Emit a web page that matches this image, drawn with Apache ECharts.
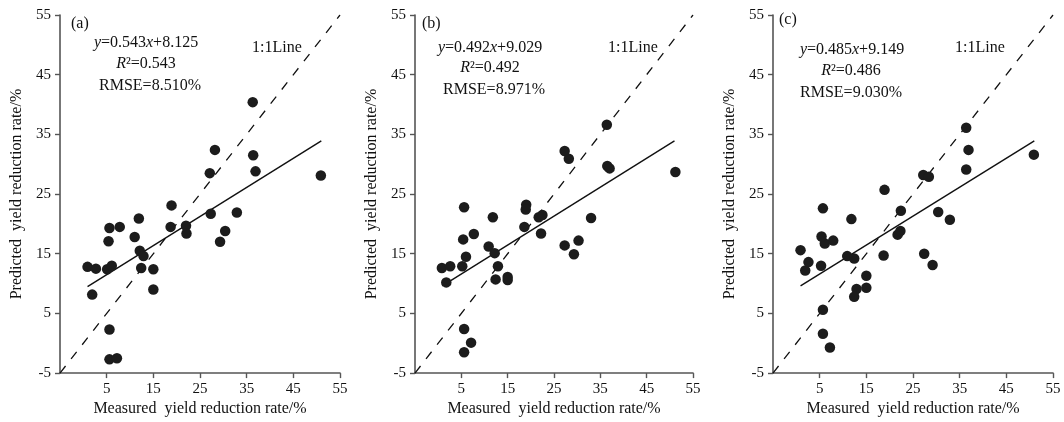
<!DOCTYPE html>
<html>
<head>
<meta charset="utf-8">
<script src="https://cdn.jsdelivr.net/npm/echarts@6/dist/echarts.min.js"></script>
<style>
html,body{margin:0;padding:0;background:#fff;}
#chart{width:1064px;height:422px;}
</style>
</head>
<body>
<div id="chart"></div>
<script>
// ---- data ----
const xTicks = [5, 15, 25, 35, 45, 55];
const yTicks = [-5, 5, 15, 25, 35, 45, 55];

// Panel (a)
const measuredA = [0.9, 2.7, 1.9, 5.1, 6.1, 5.4, 5.6, 7.8, 5.6, 5.6, 7.2, 11.0, 11.9, 12.1, 12.9, 12.4, 15.0, 15.0, 18.9, 18.7, 22.0, 22.1, 27.1, 28.2, 27.3, 29.3, 30.4, 32.9, 36.3, 36.4, 36.9, 50.9];
const predictedA = [12.8, 12.5, 8.15, 12.4, 13.0, 17.1, 19.3, 19.5, 2.3, -2.7, -2.5, 17.8, 20.9, 15.5, 14.6, 12.6, 12.4, 9.0, 23.1, 19.5, 19.7, 18.4, 28.5, 32.4, 21.7, 17.0, 18.8, 21.9, 40.4, 31.5, 28.8, 28.1];

// Panel (b)
const measuredB = [0.8, 2.6, 1.75, 5.2, 6.0, 5.4, 5.6, 7.7, 5.6, 5.6, 7.1, 10.9, 11.8, 12.2, 12.9, 12.4, 15.0, 15.0, 19.0, 18.9, 18.6, 21.7, 22.5, 22.2, 27.3, 28.2, 27.3, 29.3, 30.3, 33.0, 36.4, 36.5, 37.0, 51.2];
const predictedB = [12.6, 12.9, 10.2, 12.9, 14.5, 17.4, 22.8, 18.3, 2.4, -1.5, 0.1, 16.2, 21.1, 15.1, 12.9, 10.7, 11.1, 10.6, 23.2, 22.4, 19.5, 21.1, 21.5, 18.4, 32.2, 30.9, 16.4, 14.9, 17.2, 21.0, 36.6, 29.7, 29.3, 28.7];

// Panel (c)
const measuredC = [0.9, 1.9, 2.6, 5.3, 6.1, 5.4, 5.7, 7.9, 5.7, 5.7, 7.2, 10.9, 11.8, 12.4, 12.9, 12.4, 15.0, 15.0, 18.9, 18.7, 21.7, 22.3, 22.4, 27.2, 28.4, 27.4, 29.2, 30.4, 32.9, 36.4, 36.9, 36.4, 50.9];
const predictedC = [15.6, 12.2, 13.6, 13.0, 16.7, 17.9, 22.6, 17.2, 5.6, 1.6, -0.7, 14.6, 20.8, 14.2, 9.1, 7.8, 11.3, 9.3, 25.7, 14.7, 18.2, 18.8, 22.2, 28.2, 27.9, 15.0, 13.1, 22.0, 20.7, 36.1, 32.4, 29.1, 31.6];

// fitted lines (end points)
const fitX = [0.9, 51.0];
const fitA = [9.5, 33.9];
const fitB = [9.6, 33.9];
const fitC = [9.6, 33.9];

// 1:1 line
const oneToOne = [-5, 55];

const labels = ['(a)', '(b)', '(c)'];
const equations = ['{i|y}=0.543{i|x}+8.125', '{i|y}=0.492{i|x}+9.029', '{i|y}=0.485{i|x}+9.149'];
const r2Texts = ['{i|R}²=0.543', '{i|R}²=0.492', '{i|R}²=0.486'];
const rmseTexts = ['RMSE=8.510%', 'RMSE=8.971%', 'RMSE=9.030%'];
const lineText = '1:1Line';
const xName = 'Measured  yield reduction rate/%';
const yName = 'Predicted  yield reduction rate/%';

// ---- chart ----
const FONT = 'Liberation Serif';
const panels = [
  {mx: measuredA, py: predictedA, fit: fitA},
  {mx: measuredB, py: predictedB, fit: fitB},
  {mx: measuredC, py: predictedC, fit: fitC}
];
const grids = [
  {left: 60, top: 15, width: 280, height: 363},
  {left: 415, top: 15, width: 278, height: 363},
  {left: 773, top: 15, width: 280, height: 363}
];
const zip = (a, b) => a.map((v, i) => [v, b[i]]);

const xAxes = [], yAxes = [], series = [];
panels.forEach((p, i) => {
  xAxes.push({
    gridIndex: i, type: 'value', min: -5, max: 55, interval: 10,
    name: xName, nameLocation: 'middle', nameGap: 26,
    nameTextStyle: {fontFamily: FONT, fontSize: 16, color: '#111'},
    axisLine: {show: true, onZero: false, lineStyle: {color: '#555', width: 1.6}},
    axisTick: {show: true, inside: false, length: 5, customValues: xTicks, lineStyle: {color: '#555', width: 1.4}},
    axisLabel: {fontFamily: FONT, fontSize: 15, color: '#111', margin: 8, customValues: xTicks},
    splitLine: {show: false}
  });
  yAxes.push({
    gridIndex: i, type: 'value', min: -5, max: 55, interval: 10,
    name: yName, nameLocation: 'middle', nameGap: 35,
    nameTextStyle: {fontFamily: FONT, fontSize: 16, color: '#111'},
    axisLine: {show: true, onZero: false, lineStyle: {color: '#555', width: 1.6}},
    axisTick: {show: true, inside: false, length: 5, customValues: yTicks, lineStyle: {color: '#555', width: 1.4}},
    axisLabel: {fontFamily: FONT, fontSize: 15, color: '#111', margin: 9, customValues: yTicks},
    splitLine: {show: false}
  });
  series.push({
    type: 'line', xAxisIndex: i, yAxisIndex: i,
    data: zip(oneToOne, oneToOne), symbol: 'none', silent: true,
    lineStyle: {color: '#111', width: 1.3, type: [9, 9]}, z: 2
  });
  series.push({
    type: 'line', xAxisIndex: i, yAxisIndex: i,
    data: zip(fitX, p.fit), symbol: 'none', silent: true,
    lineStyle: {color: '#111', width: 1.4}, z: 2
  });
  series.push({
    type: 'scatter', xAxisIndex: i, yAxisIndex: i,
    data: zip(p.mx, p.py), symbol: 'circle', symbolSize: 10.5,
    itemStyle: {color: '#1c1c1c', opacity: 1}, z: 3
  });
});

// annotation positions (pixels)
const annot = [
  {lab: [71, 24], eq: [146, 43], r2: [146, 64], rm: [150, 86], ll: [277, 48]},
  {lab: [422, 24], eq: [490, 48], r2: [490, 68], rm: [494, 90], ll: [633, 48]},
  {lab: [779, 20], eq: [852, 50], r2: [851, 71], rm: [851, 93], ll: [980, 48]}
];
const rich = {i: {fontFamily: FONT, fontSize: 16, fontStyle: 'italic', fill: '#111', color: '#111'}};
const graphics = [];
annot.forEach((a, i) => {
  const mk = (pos, text, align) => ({
    type: 'text', x: pos[0], y: pos[1], silent: true,
    style: {text: text, font: '16px "' + FONT + '"', fill: '#111', align: align || 'center', verticalAlign: 'middle', rich: rich}
  });
  graphics.push(mk(a.lab, labels[i], 'left'));
  graphics.push(mk(a.eq, equations[i]));
  graphics.push(mk(a.r2, r2Texts[i]));
  graphics.push(mk(a.rm, rmseTexts[i]));
  graphics.push(mk(a.ll, lineText));
});

const chart = echarts.init(document.getElementById('chart'), null, {renderer: 'canvas'});
chart.setOption({
  backgroundColor: '#fff',
  animation: false,
  grid: grids,
  xAxis: xAxes,
  yAxis: yAxes,
  series: series,
  graphic: graphics
});
</script>
</body>
</html>
